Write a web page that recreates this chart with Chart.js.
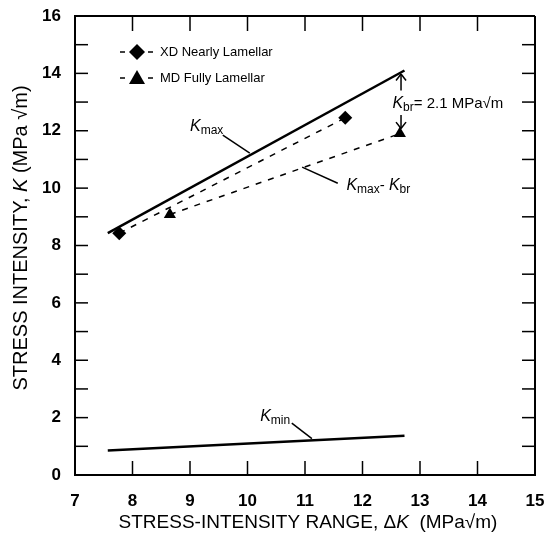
<!DOCTYPE html>
<html>
<head>
<meta charset="utf-8">
<script src="https://cdn.jsdelivr.net/npm/chart.js@4.4.0/dist/chart.umd.min.js"></script>
<style>
  html, body { margin: 0; padding: 0; background: #fff; }
  canvas { display: block; }
</style>
</head>
<body>
<canvas id="chart" width="545" height="535"></canvas>
<script>
// ========== DATOS ==========
const kmaxDK = [7.57, 12.73];
const kmaxK = [8.43, 14.1];
const kminDK = [7.57, 12.73];
const kminK = [0.85, 1.37];
const xdDK = [7.77, 11.7];
const xdK = [8.43, 12.45];
const mdDK = [8.65, 12.65];
const mdK = [9.08, 11.9];
const xTicks = [7, 8, 9, 10, 11, 12, 13, 14, 15];
const yTicks = [0, 2, 4, 6, 8, 10, 12, 14, 16];
const legendLabels = ["XD Nearly Lamellar", "MD Fully Lamellar"];

const pts = (xs, ys) => xs.map((x, i) => ({ x, y: ys[i] }));
const FONT = "'Liberation Sans', Arial, sans-serif";
const NARROW = "'Liberation Sans Narrow', 'Liberation Sans', Arial, sans-serif";

// escribe trozos de texto con estilos distintos (K cursiva, subindices)
function drawRuns(ctx, runs, x, y, align) {
  let total = 0;
  runs.forEach(r => { ctx.font = r.font; total += ctx.measureText(r.text).width; });
  let cx = align === "center" ? x - total / 2 : x;
  ctx.textBaseline = "alphabetic";
  ctx.textAlign = "left";
  runs.forEach(r => {
    ctx.font = r.font;
    ctx.fillText(r.text, cx, y + (r.dy || 0));
    cx += ctx.measureText(r.text).width;
  });
}

function line(ctx, x1, y1, x2, y2, w) {
  ctx.lineWidth = w || 1.5;
  ctx.beginPath();
  ctx.moveTo(x1, y1);
  ctx.lineTo(x2, y2);
  ctx.stroke();
}

const decorations = {
  id: "decorations",
  afterDraw(chart) {
    const { ctx, chartArea: a, scales: { x, y } } = chart;
    const px = v => x.getPixelForValue(v);
    const py = v => y.getPixelForValue(v);
    ctx.save();
    ctx.strokeStyle = "#000";
    ctx.fillStyle = "#000";

    // marco superior y derecho
    line(ctx, a.left, a.top, a.right, a.top, 2);
    line(ctx, a.right, a.top, a.right, a.bottom, 2);

    // ticks hacia dentro
    for (let v = 8; v < 15; v++) {
      line(ctx, px(v), a.bottom, px(v), a.bottom - 14, 1.5);
      line(ctx, px(v), a.top, px(v), a.top + 15, 1.5);
    }
    for (let v = 1; v < 16; v++) {
      line(ctx, a.left, py(v), a.left + 13, py(v), 1.5);
      line(ctx, a.right, py(v), a.right - 13, py(v), 1.5);
    }

    // leyenda
    const ds = chart.data.datasets;
    [2, 3].forEach((di, i) => {
      const ly = a.top + 36 + i * 26;
      const lx = a.left + 45;
      line(ctx, lx, ly, lx + 5, ly, 1.5);
      line(ctx, lx + 28, ly, lx + 33, ly, 1.5);
      const r = 8;
      ctx.beginPath();
      if (ds[di].pointStyle === "rectRot") {
        ctx.moveTo(lx + 17, ly - r); ctx.lineTo(lx + 17 + r, ly);
        ctx.lineTo(lx + 17, ly + r); ctx.lineTo(lx + 17 - r, ly);
      } else {
        ctx.moveTo(lx + 17, ly - r); ctx.lineTo(lx + 17 + r, ly + r * 0.75);
        ctx.lineTo(lx + 17 - r, ly + r * 0.75);
      }
      ctx.closePath();
      ctx.fill();
      ctx.font = "13px " + NARROW;
      ctx.textBaseline = "middle";
      ctx.textAlign = "left";
      ctx.fillText(legendLabels[i], lx + 40, ly);
    });

    const kIt = "italic 16px " + FONT;
    const sub = "12px " + NARROW;

    // K_max
    drawRuns(ctx, [{ text: "K", font: kIt }, { text: "max", font: sub, dy: 3 }], px(9.0), py(12.0), "left");
    line(ctx, px(9.57), py(11.85), px(10.04), py(11.22), 1.5);

    // K_max - K_br
    drawRuns(ctx, [{ text: "K", font: kIt }, { text: "max", font: sub, dy: 3 }, { text: "- ", font: "15px " + FONT },
      { text: "K", font: kIt }, { text: "br", font: sub, dy: 3 }], px(11.72), py(9.95), "left");
    line(ctx, px(10.95), py(10.73), px(11.57), py(10.17), 1.5);

    // K_min
    drawRuns(ctx, [{ text: "K", font: kIt }, { text: "min", font: sub, dy: 3 }], px(10.22), py(1.88), "left");
    line(ctx, px(10.77), py(1.81), px(11.12), py(1.27), 1.5);

    // K_br = 2.1 con flechas
    const ax = px(12.67);
    line(ctx, ax, py(13.4), ax, py(13.95), 1.5);
    line(ctx, ax - 5, py(13.75), ax, py(13.98), 1.5);
    line(ctx, ax + 5, py(13.75), ax, py(13.98), 1.5);
    line(ctx, ax, py(12.55), ax, py(12.08), 1.5);
    line(ctx, ax - 5, py(12.3), ax, py(12.08), 1.5);
    line(ctx, ax + 5, py(12.3), ax, py(12.08), 1.5);
    drawRuns(ctx, [{ text: "K", font: kIt }, { text: "br", font: sub, dy: 3 },
      { text: "= 2.1 MPa\u221Am", font: "15px " + NARROW }], px(12.52), py(12.78), "left");

    // titulos de ejes
    const reg = "19px " + FONT;
    const it = "italic 19px " + FONT;
    drawRuns(ctx, [{ text: "STRESS-INTENSITY RANGE, \u0394", font: reg }, { text: "K", font: it },
      { text: "  (MPa\u221Am)", font: reg }], 308, 528, "center");
    ctx.save();
    ctx.translate(27, 238);
    ctx.rotate(-Math.PI / 2);
    const regY = "20px " + FONT;
    const itY = "italic 20px " + FONT;
    drawRuns(ctx, [{ text: "STRESS INTENSITY, ", font: regY }, { text: "K", font: itY },
      { text: " (MPa \u221Am)", font: regY }], 0, 0, "center");
    ctx.restore();

    ctx.restore();
  }
};

new Chart(document.getElementById("chart"), {
  type: "scatter",
  data: {
    datasets: [
      { label: "Kmax", data: pts(kmaxDK, kmaxK), showLine: true, borderColor: "#000", borderWidth: 2.5, pointRadius: 0 },
      { label: "Kmin", data: pts(kminDK, kminK), showLine: true, borderColor: "#000", borderWidth: 2.5, pointRadius: 0 },
      { label: legendLabels[0], data: pts(xdDK, xdK), showLine: true, borderColor: "#000", borderWidth: 1.5,
        borderDash: [6, 7], pointStyle: "rectRot", pointRadius: 7, backgroundColor: "#000", pointBorderWidth: 0 },
      { label: legendLabels[1], data: pts(mdDK, mdK), showLine: true, borderColor: "#000", borderWidth: 1.5,
        borderDash: [6, 7], pointStyle: "triangle", pointRadius: 7, backgroundColor: "#000", pointBorderWidth: 0 }
    ]
  },
  options: {
    responsive: false,
    animation: false,
    layout: { padding: { top: 16, right: 10, left: 0, bottom: 0 } },
    plugins: { legend: { display: false }, tooltip: { enabled: false } },
    scales: {
      x: {
        type: "linear", min: 7, max: 15,
        afterBuildTicks: s => { s.ticks = xTicks.map(v => ({ value: v })); },
        afterFit: s => { s.height = 60; s.paddingLeft = 0; s.paddingRight = 0; },
        grid: { display: false },
        border: { display: true, color: "#000", width: 2 },
        ticks: { color: "#000", padding: 8, maxRotation: 0, font: { family: FONT, size: 17, weight: "bold" } }
      },
      y: {
        type: "linear", min: 0, max: 16,
        afterBuildTicks: s => { s.ticks = yTicks.map(v => ({ value: v })); },
        afterFit: s => { s.width = 75; s.paddingTop = 0; s.paddingBottom = 0; },
        grid: { display: false },
        border: { display: true, color: "#000", width: 2 },
        ticks: { color: "#000", padding: 6, font: { family: FONT, size: 17, weight: "bold" } }
      }
    }
  },
  plugins: [decorations]
});
</script>
</body>
</html>
